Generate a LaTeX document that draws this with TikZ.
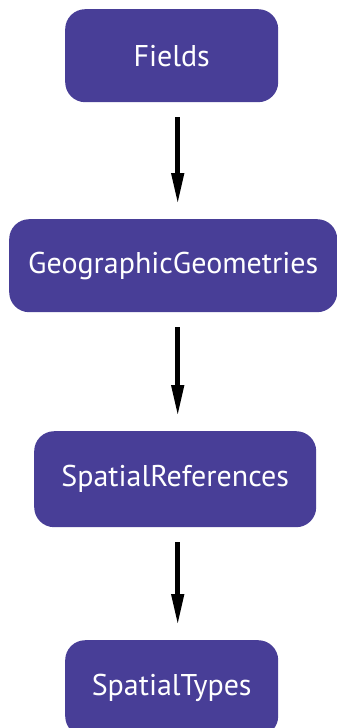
\documentclass[tikz,border=0pt]{standalone}
\usepackage{fontspec}
\setmainfont{PT Sans}
\usetikzlibrary{arrows.meta}
\definecolor{boxfill}{RGB}{72,62,151}
\begin{document}
\begin{tikzpicture}[x=1pt,y=-1pt,
  box/.style={fill=boxfill,rounded corners=20pt,text=white,font=\fontsize{30}{34}\selectfont,inner sep=0pt,anchor=north west},
  flow/.style={line width=4.5pt,-{Triangle[length=31pt,width=12pt]},shorten <=15pt,shorten >=15pt}]
\useasboundingbox (0,0) rectangle (337,728);
\begin{scope}
\clip (0,0) rectangle (337,728);
\node[box,minimum width=213pt,minimum height=93pt] (f) at (65,9) {Fields};
\node[box,minimum width=328pt,minimum height=93pt] (g) at (9,219) {GeographicGeometries};
\node[box,minimum width=282pt,minimum height=96pt] (s) at (34,431) {SpatialReferences};
\node[box,minimum width=213pt,minimum height=96pt] (t) at (65,640) {SpatialTypes};
\end{scope}
\draw[flow] ([xshift=6pt]f.south) -- ([xshift=6pt]f.south |- g.north);
\draw[flow] ([xshift=6pt]f.south |- g.south) -- ([xshift=6pt]f.south |- s.north);
\draw[flow] ([xshift=6pt]f.south |- s.south) -- ([xshift=6pt]f.south |- t.north);
\end{tikzpicture}
\end{document}
